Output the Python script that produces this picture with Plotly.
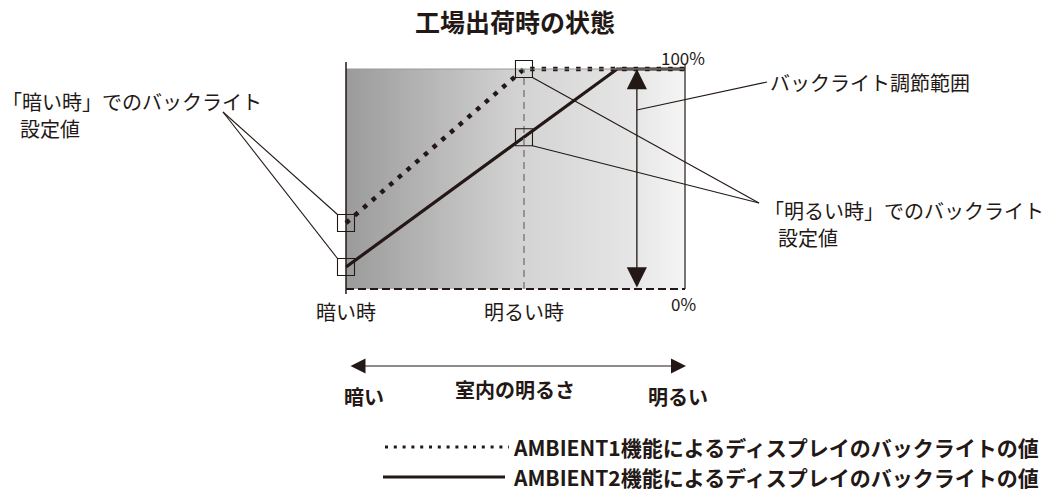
import numpy as np
import plotly.graph_objects as go

# room brightness: 0 = dark, 1 = bright ; backlight in %
ambient1_x = [0.0, 0.525, 1.0]
ambient1_y = [30, 100, 100]
ambient2_x = [0.0, 0.525, 0.8, 1.0]
ambient2_y = [10, 69, 100, 100]
bright_x = 0.525
range_x = 0.858
tick_labels = ["暗い時", "明るい時"]
tick_pos = [0.0, 0.525]

INK = "#231815"
FONT = "Noto Sans CJK JP"
W, H = 1045, 492

# screen pixel -> data mapping (axes span the whole canvas)
X0, SX = 346, 339.0
Y0, SY = 289, 2.2


def dx(px):
    return (px - X0) / SX


def dy(py):
    return (Y0 - py) / SY


fig = go.Figure()

# gradient background of the plot box
n = 120
edges = np.linspace(0, 1, n + 1)
fig.add_trace(go.Heatmap(
    x=edges, y=[0, 100], z=[(edges[:-1] + edges[1:]) / 2],
    colorscale=[[0, "#9b9b9b"], [0.5, "#d2d2d2"], [0.85, "#e6e6e6"], [1, "#f5f5f5"]],
    showscale=False, hoverinfo="skip", zmin=0, zmax=1))

# frame lines
fig.add_shape(type="line", x0=0, x1=1, y0=100, y1=100, line=dict(color="#9a9a9a", width=1))
fig.add_shape(type="line", x0=0, x1=1, y0=0, y1=0, line=dict(color=INK, width=2, dash="8px,4px"))
fig.add_shape(type="line", x0=0, x1=0, y0=dy(294), y1=dy(62), line=dict(color=INK, width=1.5))
fig.add_shape(type="line", x0=1, x1=1, y0=0, y1=dy(64), line=dict(color=INK, width=1.2))
fig.add_shape(type="line", x0=bright_x, x1=bright_x, y0=0, y1=100,
              line=dict(color="#808080", width=1.5, dash="7px,5px"))

# curves
fig.add_trace(go.Scatter(x=ambient1_x, y=ambient1_y, mode="lines",
                         line=dict(color=INK, width=4.5, dash="4.5px,7px"), hoverinfo="skip"))
fig.add_trace(go.Scatter(x=ambient2_x, y=ambient2_y, mode="lines",
                         line=dict(color=INK, width=3.2), hoverinfo="skip"))

# callout boxes
boxes = [(ambient1_x[0], ambient1_y[0]), (ambient2_x[0], ambient2_y[0]),
         (ambient1_x[1], ambient1_y[1]), (ambient2_x[1], ambient2_y[1])]
for bx, by in boxes:
    fig.add_shape(type="rect", xref="x", yref="y", xsizemode="pixel", ysizemode="pixel",
                  xanchor=bx, yanchor=by, x0=-8.5, x1=8.5, y0=-8.5, y1=8.5,
                  line=dict(color=INK, width=1.1))

h = 8.5
# left callout lines (to top-left corners of left boxes)
for bx, by in boxes[:2]:
    fig.add_shape(type="line", x0=dx(223), y0=dy(112), x1=bx - h / SX, y1=by + h / SY,
                  line=dict(color=INK, width=1.1))
# right callout lines (from bottom-right corners of bright boxes)
for bx, by in boxes[2:]:
    fig.add_shape(type="line", x0=bx + h / SX, y0=by - h / SY, x1=dx(759), y1=dy(203),
                  line=dict(color=INK, width=1.1))
# adjustment range line
fig.add_shape(type="line", x0=range_x, y0=dy(110), x1=dx(767), y1=dy(82),
              line=dict(color=INK, width=1.1))

# double arrow for backlight range
fig.add_annotation(x=range_x, y=100, ax=range_x, ay=0, axref="x", ayref="y", text="",
                   showarrow=True, arrowhead=2, arrowside="end+start", arrowsize=3.1,
                   arrowwidth=1.3, arrowcolor=INK, standoff=0, startstandoff=0)
# room brightness arrow
fig.add_annotation(x=dx(686), y=dy(366), ax=dx(349), ay=dy(366), axref="x", ayref="y", text="",
                   showarrow=True, arrowhead=2, arrowside="end+start", arrowsize=2.5,
                   arrowwidth=1.2, arrowcolor=INK, standoff=0, startstandoff=0)

# legend samples
fig.add_trace(go.Scatter(x=[dx(385), dx(509)], y=[dy(447), dy(447)], mode="lines",
                         line=dict(color=INK, width=3, dash="3px,5.8px"), hoverinfo="skip"))
fig.add_trace(go.Scatter(x=[dx(383), dx(505)], y=[dy(477), dy(477)], mode="lines",
                         line=dict(color=INK, width=3), hoverinfo="skip"))


def label(text, px, py, size=20, anchor="left", weight="normal"):
    fig.add_annotation(x=dx(px), y=dy(py), text=text, showarrow=False, xanchor=anchor,
                       yanchor="middle",
                       font=dict(family=FONT, size=size, color=INK, weight=weight))


label("工場出荷時の状態", 515, 21, size=25, anchor="center", weight="bold")
label("「暗い時」でのバックライト", 264, 101, anchor="right")
label("設定値", 18, 128)
label("バックライト調節範囲", 768, 82)
label("「明るい時」でのバックライト", 762, 210)
label("設定値", 776, 237)
label("100%", 683, 57, size=17, anchor="center")
label("0%", 683, 303, size=17, anchor="center")
for t, p in zip(tick_labels, tick_pos):
    label(t, X0 + p * SX, 311, size=20, anchor="center")
label("暗い", 364, 396, weight="bold", anchor="center")
label("室内の明るさ", 515, 389, weight="bold", anchor="center")
label("明るい", 678, 396, weight="bold", anchor="center")
label("AMBIENT1機能によるディスプレイのバックライトの値", 511, 447, size=21, weight="bold")
label("AMBIENT2機能によるディスプレイのバックライトの値", 511, 477, size=21, weight="bold")

fig.update_xaxes(range=[dx(0), dx(W)], visible=False, fixedrange=True)
fig.update_yaxes(range=[dy(H), dy(0)], visible=False, fixedrange=True)
fig.update_layout(width=W, height=H, margin=dict(l=0, r=0, t=0, b=0),
                  plot_bgcolor="white", paper_bgcolor="white", showlegend=False)

# drop the default page margin so the canvas sits at the window's top-left corner
fig.write_html("out.html", config={"displayModeBar": False},
               post_script="document.body.style.margin='0';")
